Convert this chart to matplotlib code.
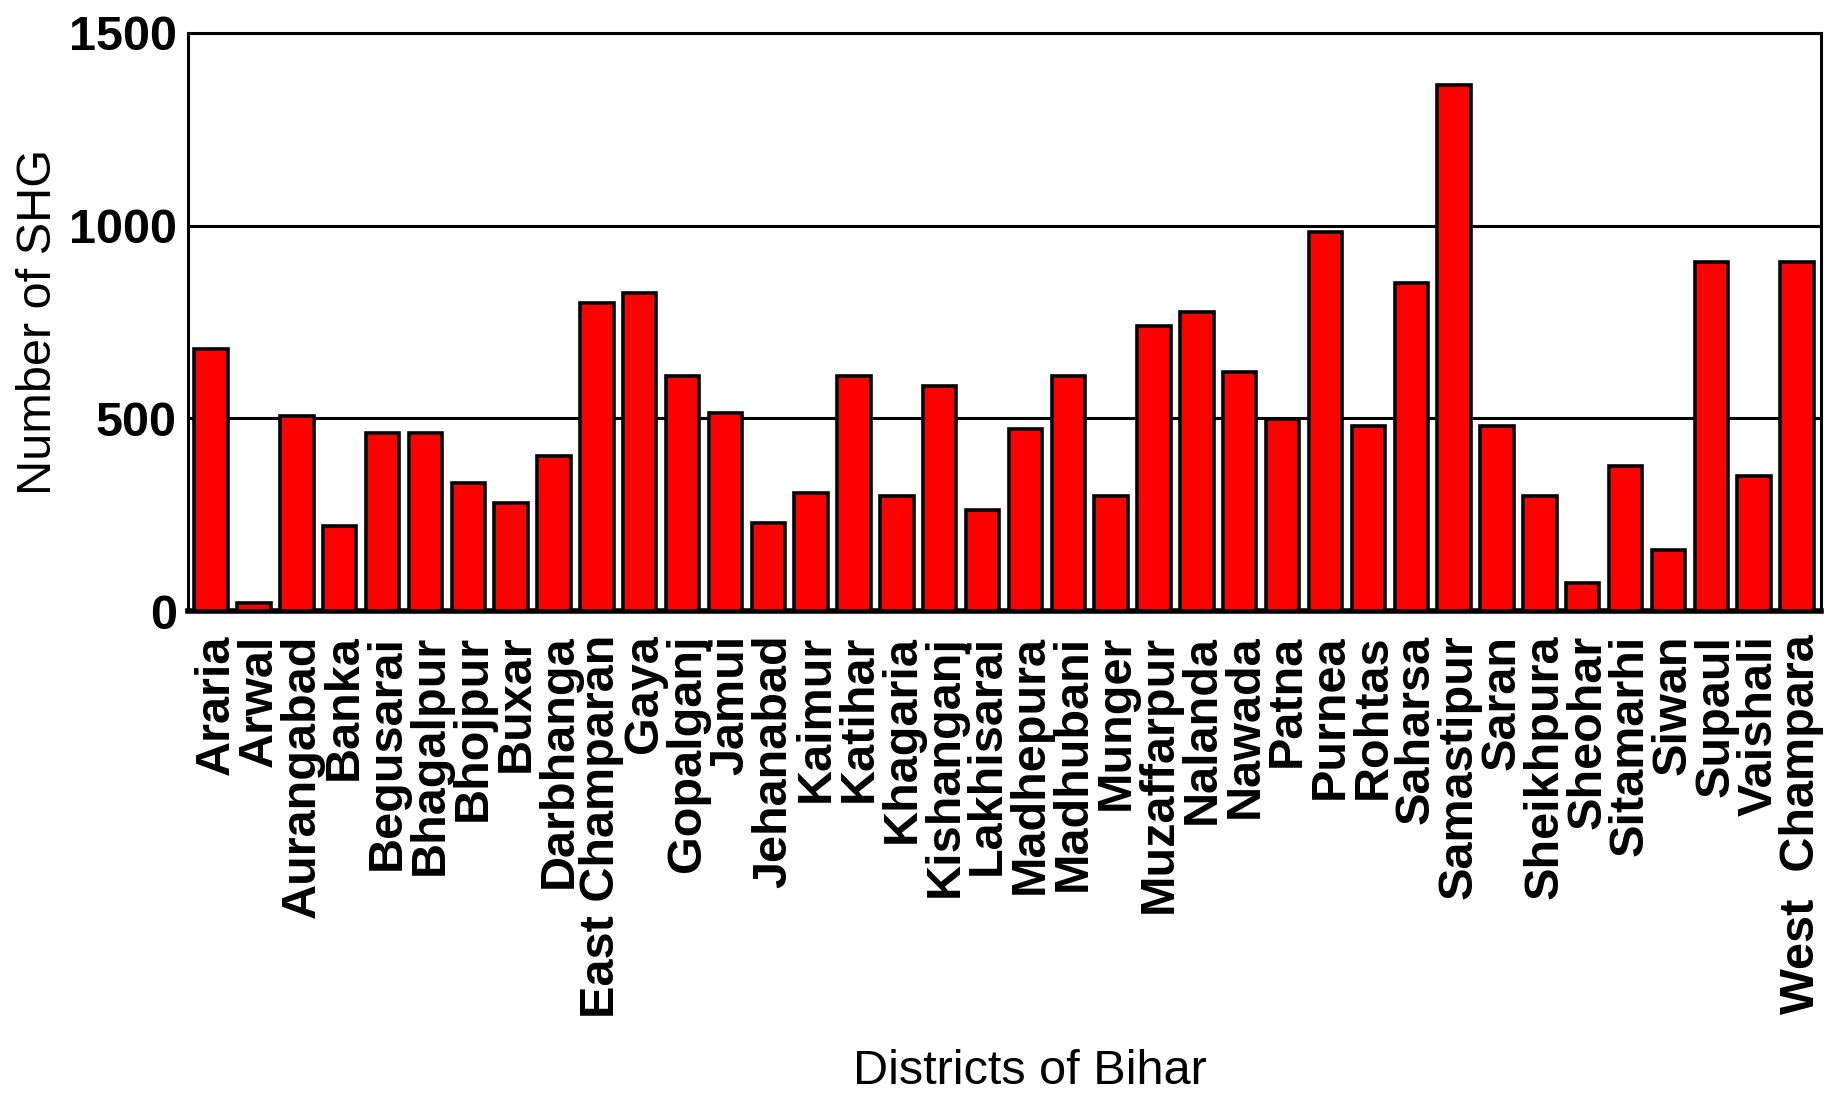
import matplotlib.pyplot as plt
import matplotlib.transforms as mtransforms
import numpy as np

plt.rcParams['font.family'] = ['Liberation Sans', 'DejaVu Sans']

# number of SHGs per district
districts = ['Araria', 'Arwal', 'Aurangabad', 'Banka', 'Begusarai', 'Bhagalpur',
             'Bhojpur', 'Buxar', 'Darbhanga', 'East Champaran', 'Gaya', 'Gopalganj',
             'Jamui', 'Jehanabad', 'Kaimur', 'Katihar', 'Khagaria', 'Kishanganj',
             'Lakhisarai', 'Madhepura', 'Madhubani', 'Munger', 'Muzaffarpur',
             'Nalanda', 'Nawada', 'Patna', 'Purnea', 'Rohtas', 'Saharsa',
             'Samastipur', 'Saran', 'Sheikhpura', 'Sheohar', 'Sitamarhi', 'Siwan',
             'Supaul', 'Vaishali', 'West  Champara']
shg_count = [680, 22, 507, 220, 463, 463,
             333, 280, 403, 800, 826, 609,
             515, 229, 307, 609, 299, 585,
             263, 471, 609, 299, 739,
             775, 619, 498, 983, 480, 852,
             1364, 480, 299, 72, 376, 159,
             905, 351, 905]
y_ticks = [0, 500, 1000, 1500]

fig = plt.figure(figsize=(18.29, 10.96), dpi=100)
ax = fig.add_axes([0.1028, 0.4425, 0.8928, 0.5275])

x = np.arange(len(districts))
ax.bar(x, shg_count, width=0.78, color='#ff0000', edgecolor='black', linewidth=2.6, zorder=3)

ax.set_xlim(-0.54, len(districts) - 0.44)
ax.set_ylim(0, 1500)
ax.set_yticks(y_ticks)
ax.set_yticklabels([str(t) for t in y_ticks], fontsize=35, fontweight='bold')
ax.set_xticks(x)
ax.set_xticklabels(districts, rotation=90, fontsize=35, fontweight='bold',
                   ha='center', va='top')
ax.tick_params(axis='both', length=0)
ax.tick_params(axis='x', pad=17)
ax.tick_params(axis='y', pad=8)

# labels sit a little right of the bar centres
shift = mtransforms.ScaledTranslation(0.05, 0, fig.dpi_scale_trans)
for lbl in ax.get_xticklabels():
    lbl.set_transform(lbl.get_transform() + shift)

ax.yaxis.grid(True, color='black', linewidth=2.2)
ax.set_axisbelow(True)

for side in ['top', 'right', 'left']:
    ax.spines[side].set_linewidth(2.2)
ax.spines['bottom'].set_linewidth(4)

ax.set_ylabel('Number of SHG', fontsize=35, labelpad=6)
fig.text(0.563, 0.022, 'Districts of Bihar', fontsize=35, ha='center', va='center')

fig.savefig('out.png', dpi=100)
